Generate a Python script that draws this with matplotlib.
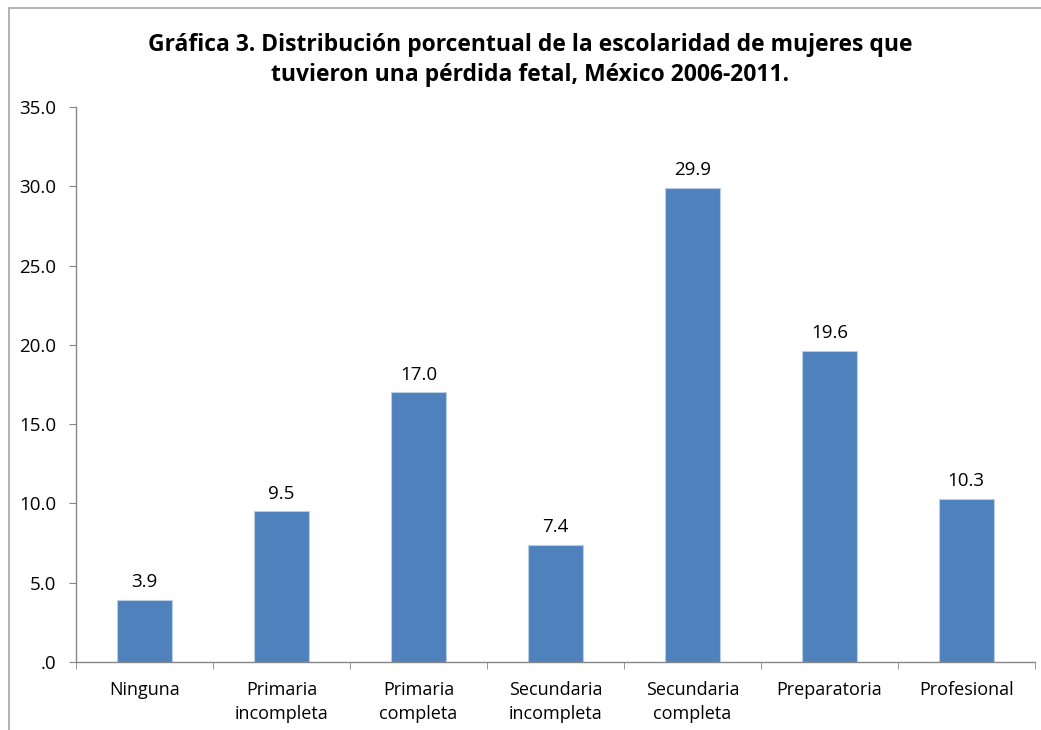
import matplotlib.pyplot as plt
from matplotlib.patches import Rectangle
import numpy as np

categorias = ['Ninguna', 'Primaria\nincompleta', 'Primaria\ncompleta',
              'Secundaria\nincompleta', 'Secundaria\ncompleta',
              'Preparatoria', 'Profesional']
porcentajes = [3.9, 9.5, 17.0, 7.4, 29.9, 19.6, 10.3]
yticks = [0, 5, 10, 15, 20, 25, 30, 35]
ytick_labels = ['.0', '5.0', '10.0', '15.0', '20.0', '25.0', '30.0', '35.0']
titulo = ('Gráfica 3. Distribución porcentual de la escolaridad de mujeres que\n'
          'tuvieron una pérdida fetal, México 2006-2011.')

plt.rcParams['font.family'] = ['Open Sans', 'DejaVu Sans']

fig = plt.figure(figsize=(10.41, 7.3), dpi=100)
# marco del gráfico (se sale por la derecha y abajo)
fig.patches.append(Rectangle((9 / 1041, -0.1), 1.2, 1 - 8 / 730 + 0.1,
                             transform=fig.transFigure, fill=False,
                             edgecolor='#a6a6a6', linewidth=1.2))

ax = fig.add_axes([0.073, 0.0932, 0.921, 0.7602])
x = np.arange(len(categorias))
ax.bar(x, porcentajes, width=0.4, color='#4f81bd',
       edgecolor='#b9cde5', linewidth=0.8)

for xi, v in zip(x, porcentajes):
    ax.text(xi, v + 0.55, f'{v:.1f}', ha='center', va='bottom', fontsize=13.5)

ax.set_xlim(-0.5, len(categorias) - 0.5)
ax.set_ylim(0, 35)
ax.set_yticks(yticks)
ax.set_yticklabels(ytick_labels, fontsize=13.5)
ax.set_xticks(x)
ax.set_xticklabels(categorias, fontsize=13, linespacing=1.38)
ax.set_xticks(np.arange(-0.5, len(categorias), 1.0), minor=True)
ax.tick_params(axis='x', which='major', length=0, pad=14)
ax.tick_params(axis='x', which='minor', length=5, color='#868686')
ax.tick_params(axis='y', length=5, color='#868686', pad=9)

for s in ['top', 'right']:
    ax.spines[s].set_visible(False)
for s in ['left', 'bottom']:
    ax.spines[s].set_color('#868686')
    ax.spines[s].set_linewidth(1.0)

fig.text(0.509, 0.918, titulo, ha='center', va='center', fontsize=16.5,
         fontweight='bold', linespacing=1.35)

fig.savefig('out.png', dpi=100)
